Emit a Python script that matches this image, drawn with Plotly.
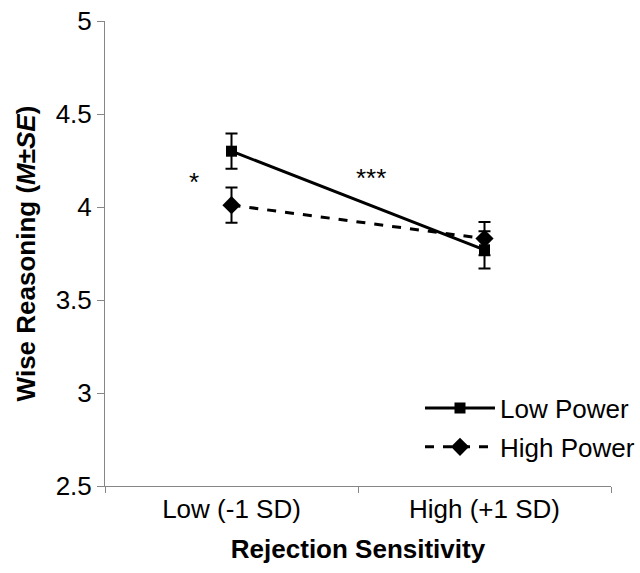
import plotly.graph_objects as go

categories = ["Low (-1 SD)", "High (+1 SD)"]
low_power = [4.30, 3.77]
low_power_se = [0.095, 0.10]
high_power = [4.01, 3.83]
high_power_se = [0.095, 0.09]

FONT = "Liberation Sans, Arial, sans-serif"
AXIS_GRAY = "#868686"
FS = 26

fig = go.Figure()
fig.add_trace(
    go.Scatter(
        x=categories,
        y=low_power,
        name="Low Power",
        mode="lines+markers",
        line=dict(color="black", width=3),
        marker=dict(symbol="square", size=11, color="black"),
        error_y=dict(type="data", array=low_power_se, color="black", thickness=2, width=6),
        legendgroup="a",
    )
)
fig.add_trace(
    go.Scatter(
        x=categories,
        y=high_power,
        name="High Power",
        mode="lines+markers",
        line=dict(color="black", width=3, dash="dash"),
        marker=dict(symbol="diamond", size=14, color="black"),
        error_y=dict(type="data", array=high_power_se, color="black", thickness=2, width=6),
        legendgroup="b",
    )
)

# significance markers
fig.add_annotation(x=-0.15, y=4.136, text="*", showarrow=False, font=dict(size=FS, color="black", family=FONT))
fig.add_annotation(x=0.55, y=4.156, text="***", showarrow=False, font=dict(size=FS, color="black", family=FONT))

# figure is a bit wider than the window so the legend box has room on the right;
# the extra strip falls outside the visible 640px
fig.update_layout(
    width=670,
    height=573,
    margin=dict(l=105, r=59, t=21, b=87),
    paper_bgcolor="white",
    plot_bgcolor="white",
    font=dict(family=FONT, size=FS, color="black"),
    legend=dict(
        x=0.6225,
        y=0.218,
        xanchor="left",
        yanchor="top",
        bgcolor="rgba(0,0,0,0)",
        font=dict(size=FS),
        itemwidth=70,
        tracegroupgap=2,
        traceorder="grouped",
    ),
)
fig.update_xaxes(
    type="category",
    range=[-0.5, 1.5],
    automargin=False,
    showline=True,
    linecolor=AXIS_GRAY,
    linewidth=1,
    ticks="outside",
    tickson="boundaries",
    ticklen=6,
    tickcolor=AXIS_GRAY,
    showgrid=False,
    title=dict(text="<b>Rejection Sensitivity</b>", font=dict(size=FS), standoff=16),
)
fig.update_yaxes(
    range=[2.5, 5],
    dtick=0.5,
    automargin=False,
    showline=True,
    linecolor=AXIS_GRAY,
    linewidth=1,
    ticks="outside",
    ticklen=7,
    tickcolor=AXIS_GRAY,
    showgrid=False,
    zeroline=False,
    title=dict(text="<b>Wise Reasoning (<i>M</i>±<i>SE</i>)</b>", font=dict(size=FS), standoff=12),
)

fig.write_html(
    "out.html",
    config={"displayModeBar": False},
    post_script="document.body.style.margin = '0'; document.body.style.overflow = 'hidden';",
)
